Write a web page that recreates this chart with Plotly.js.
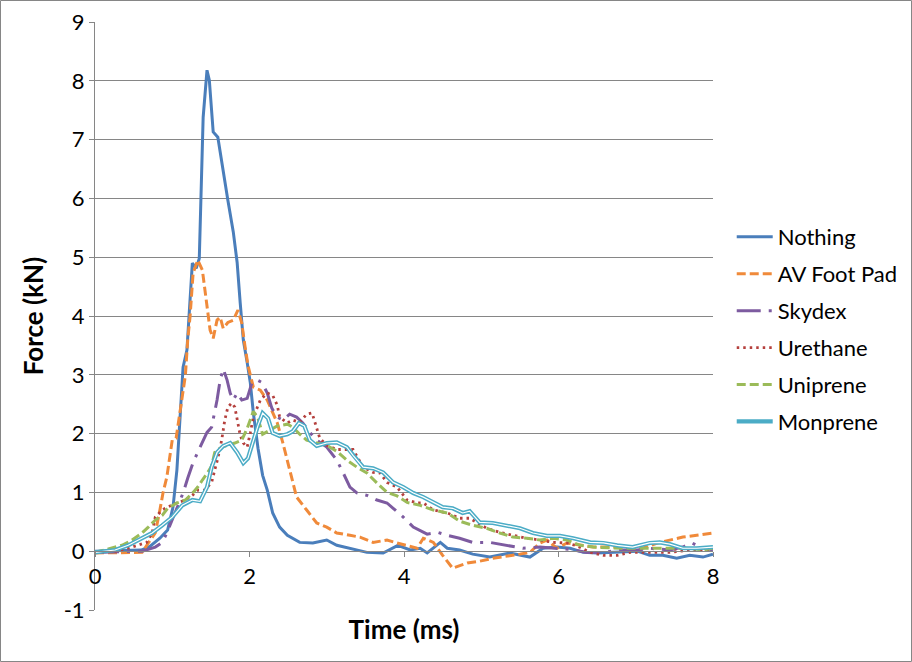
<!DOCTYPE html>
<html>
<head>
<meta charset="utf-8">
<script src="https://cdn.plot.ly/plotly-3.0.1.min.js"></script>
<style>html,body{margin:0;padding:0;background:#fff;}#chart{width:912px;height:662px;}</style>
</head>
<body>
<div id="chart"></div>
<script>
// ---- Data (time in ms, force in kN) ----
const seriesNames = ["Nothing", "AV Foot Pad", "Skydex", "Urethane", "Uniprene", "Monprene"];

const nothingT = [0,0.6,0.71,0.84,0.94,1.01,1.06,1.10,1.14,1.19,1.23,1.26,1.31,1.35,1.40,1.45,1.48,1.53,1.59,1.66,1.72,1.79,1.84,1.88,1.92,1.97,2.01,2.05,2.11,2.17,2.23,2.30,2.39,2.49,2.65,2.82,3.00,3.13,3.30,3.52,3.73,3.92,4.08,4.21,4.30,4.47,4.56,4.72,4.89,5.11,5.37,5.63,5.80,5.98,6.15,6.32,6.50,6.76,7.02,7.18,7.35,7.53,7.70,7.87,8.0];
const nothingF = [0,0.02,0.08,0.22,0.36,0.75,1.38,2.23,3.13,3.42,4.18,4.90,4.81,4.98,7.38,8.18,8.01,7.13,7.04,6.43,5.97,5.43,4.91,4.22,3.59,3.21,2.87,2.35,1.75,1.29,1.04,0.65,0.41,0.27,0.15,0.14,0.19,0.10,0.05,-0.02,-0.03,0.10,0.02,0.05,-0.03,0.15,0.05,0.02,-0.05,-0.10,-0.03,-0.10,0.05,0.07,0.05,-0.02,-0.03,-0.02,0.0,-0.07,-0.07,-0.12,-0.07,-0.10,-0.05];

const padT = [0,0.26,0.61,0.69,0.78,0.84,0.88,0.93,0.97,1.00,1.05,1.10,1.17,1.20,1.23,1.27,1.33,1.39,1.45,1.49,1.53,1.58,1.62,1.66,1.72,1.79,1.85,1.90,1.94,1.98,2.05,2.14,2.23,2.29,2.36,2.43,2.52,2.61,2.74,2.87,3.00,3.13,3.30,3.43,3.60,3.78,3.91,4.04,4.17,4.25,4.38,4.50,4.63,4.82,4.98,5.15,5.33,5.50,5.63,5.76,5.85,5.98,6.11,6.28,6.45,6.80,7.09,7.28,7.44,7.61,7.79,8.0];
const padF = [-0.03,-0.03,-0.02,0.14,0.31,0.70,0.99,1.26,1.67,1.89,1.92,2.40,2.99,3.59,3.98,4.73,4.95,4.78,4.15,3.76,3.62,3.93,3.98,3.79,3.89,3.93,4.10,3.88,3.50,3.16,2.79,2.74,2.57,2.40,2.18,1.85,1.38,0.92,0.70,0.48,0.41,0.31,0.27,0.24,0.15,0.19,0.14,0.09,0.05,0.22,0.15,-0.07,-0.29,-0.20,-0.17,-0.12,-0.09,-0.05,-0.02,0.14,0.19,0.05,0.14,0.10,0.07,0.07,0.05,0.14,0.19,0.24,0.27,0.31];

const skydexT = [0,0.43,0.61,0.78,0.87,0.93,1.00,1.07,1.14,1.20,1.27,1.36,1.45,1.51,1.58,1.62,1.66,1.71,1.75,1.79,1.84,1.90,1.97,2.03,2.10,2.16,2.23,2.29,2.36,2.43,2.52,2.61,2.69,2.78,2.87,3.00,3.13,3.21,3.30,3.39,3.52,3.65,3.78,3.86,3.99,4.12,4.30,4.44,4.56,4.72,4.89,5.11,5.33,5.54,5.76,5.98,6.15,6.37,6.58,6.80,7.02,7.18,7.44,7.61,7.73,7.83,8.0];
const skydexF = [-0.02,-0.01,0.0,0.07,0.15,0.31,0.53,0.78,0.99,1.24,1.51,1.77,2.02,2.11,2.57,2.91,3.10,2.91,2.69,2.57,2.69,2.57,2.60,2.86,2.91,2.87,2.69,2.43,2.28,2.23,2.33,2.28,2.18,2.02,1.89,1.77,1.55,1.34,1.09,0.99,0.95,0.87,0.82,0.73,0.58,0.41,0.29,0.32,0.27,0.22,0.15,0.15,0.10,0.05,0.07,0.05,0.03,-0.02,-0.02,0.02,0.02,0.05,0.02,0.07,0.14,0.07,0.02];

const urethaneT = [0,0.26,0.43,0.56,0.67,0.74,0.78,0.87,0.94,1.06,1.17,1.26,1.33,1.42,1.51,1.55,1.59,1.64,1.68,1.72,1.77,1.81,1.84,1.88,1.92,1.97,2.01,2.05,2.14,2.23,2.30,2.36,2.39,2.49,2.56,2.65,2.74,2.81,2.85,2.91,3.00,3.13,3.34,3.40,3.47,3.60,3.69,3.78,3.91,4.04,4.17,4.25,4.38,4.56,4.72,4.85,4.94,5.07,5.24,5.41,5.59,5.76,5.93,6.11,6.24,6.41,6.58,6.76,6.93,7.18,7.44,7.70,8.0];
const urethaneF = [-0.02,0.0,0.05,0.10,0.15,0.31,0.58,0.70,0.75,0.82,0.87,0.95,1.04,1.04,1.17,1.38,1.58,1.89,2.23,2.45,2.52,2.45,2.26,1.97,1.84,1.77,2.01,2.28,2.57,2.69,2.65,2.48,2.28,2.18,2.23,2.19,2.33,2.35,2.18,1.92,1.80,1.73,1.73,1.60,1.43,1.34,1.33,1.17,1.09,0.87,0.82,0.82,0.70,0.65,0.56,0.56,0.49,0.39,0.32,0.27,0.22,0.19,0.15,0.14,0.09,-0.02,-0.07,-0.07,-0.02,-0.02,-0.02,0.02,0.03];

const unipreneT = [0,0.22,0.35,0.48,0.61,0.69,0.78,0.87,0.94,1.06,1.17,1.27,1.33,1.39,1.42,1.46,1.51,1.55,1.64,1.72,1.81,1.90,1.97,2.05,2.11,2.17,2.27,2.36,2.49,2.56,2.65,2.74,2.87,3.00,3.13,3.26,3.39,3.52,3.65,3.78,3.91,4.04,4.21,4.38,4.56,4.72,4.89,5.07,5.24,5.41,5.59,5.76,5.93,6.11,6.28,6.45,6.83,7.35,7.70,7.87,8.0];
const unipreneF = [-0.02,0.05,0.10,0.19,0.31,0.41,0.53,0.61,0.73,0.82,0.87,1.00,1.09,1.21,1.26,1.34,1.45,1.68,1.77,1.80,1.84,1.89,2.09,2.38,2.26,1.99,2.06,2.13,2.16,2.11,1.99,1.89,1.84,1.80,1.70,1.55,1.43,1.33,1.16,1.00,0.94,0.83,0.78,0.70,0.65,0.51,0.44,0.39,0.31,0.24,0.22,0.19,0.22,0.19,0.10,0.07,0.05,0.05,0.05,0.02,0.05];

const monpreneT = [0,0.26,0.43,0.61,0.74,0.87,1.00,1.13,1.26,1.36,1.45,1.51,1.58,1.66,1.75,1.84,1.92,1.98,2.05,2.11,2.17,2.24,2.30,2.39,2.49,2.56,2.64,2.71,2.78,2.87,3.00,3.13,3.26,3.34,3.47,3.60,3.73,3.86,3.99,4.12,4.25,4.38,4.50,4.63,4.76,4.85,4.98,5.15,5.33,5.50,5.67,5.85,6.02,6.19,6.41,6.58,6.76,6.96,7.18,7.31,7.44,7.61,7.79,8.0];
const monpreneF = [-0.02,0.02,0.10,0.22,0.31,0.44,0.58,0.78,0.87,0.85,1.09,1.43,1.68,1.79,1.84,1.68,1.50,1.58,1.89,2.14,2.35,2.26,2.01,1.96,1.99,2.04,2.18,2.13,1.89,1.79,1.84,1.85,1.77,1.63,1.43,1.41,1.34,1.17,1.09,0.99,0.92,0.83,0.75,0.73,0.65,0.68,0.49,0.48,0.43,0.39,0.31,0.26,0.26,0.22,0.15,0.14,0.10,0.07,0.14,0.15,0.12,0.05,0.05,0.07];

const xTicks = [0, 2, 4, 6, 8];
const yTicks = [-1, 0, 1, 2, 3, 4, 5, 6, 7, 8, 9];

// ---- Styles ----
const FONT = "Lato, 'Open Sans', sans-serif";
const GRID = "#868686";

function tr(name, x, y, color, width, dash, extra) {
  return Object.assign({
    type: "scatter", mode: "lines", name: name, x: x, y: y,
    line: {color: color, width: width, dash: dash, shape: "linear"},
    legendgroup: name, hoverinfo: "skip"
  }, extra || {});
}

const data = [
  tr(seriesNames[0], nothingT, nothingF, "#4A7EBB", 3, "solid"),
  tr(seriesNames[1], padT, padF, "#F08A3A", 3, "9px,4px"),
  tr(seriesNames[2], skydexT, skydexF, "#7D5BA0", 3, "24px,8px,3px,8px"),
  tr(seriesNames[3], urethaneT, urethaneF, "#B5403D", 2.8, "2.5px,4px"),
  tr(seriesNames[4], unipreneT, unipreneF, "#9BBB59", 3, "9px,4px"),
  tr(seriesNames[5], monpreneT, monpreneF, "#4BACC6", 4.2, "solid"),
  tr(seriesNames[5], monpreneT, monpreneF, "#FFFFFF", 1.2, "solid", {showlegend: false})
];

const layout = {
  width: 912, height: 662,
  margin: {l: 95, r: 199, t: 22, b: 52, pad: 0, autoexpand: false},
  paper_bgcolor: "#fff", plot_bgcolor: "#fff",
  font: {family: FONT, size: 22, color: "#000"},
  showlegend: true,
  legend: {
    x: 1.0303, xanchor: "left", y: 0.670, yanchor: "top",
    font: {family: FONT, size: 22, color: "#000"},
    traceorder: "grouped", tracegroupgap: 5.3,
    bgcolor: "rgba(0,0,0,0)", borderwidth: 0, itemwidth: 36
  },
  xaxis: {
    range: [0, 8], tickvals: xTicks, ticktext: xTicks.map(String),
    anchor: "free", position: 0.1,
    showline: true, linecolor: GRID, linewidth: 1,
    ticks: "outside", ticklen: 5, tickcolor: GRID,
    showgrid: false, zeroline: false,
    tickfont: {family: FONT, size: 22, color: "#000"},
    title: {text: "<b>Time (ms)</b>", font: {family: FONT, size: 26, color: "#000"}, standoff: 33},
    automargin: false
  },
  yaxis: {
    range: [-1, 9], tickvals: yTicks, ticktext: yTicks.map(String),
    showline: true, linecolor: GRID, linewidth: 1,
    ticks: "outside", ticklen: 5, tickcolor: GRID,
    showgrid: true, gridcolor: GRID, gridwidth: 1, zeroline: false,
    tickfont: {family: FONT, size: 22, color: "#000"},
    title: {text: "<b>Force (kN)</b>", font: {family: FONT, size: 26, color: "#000"}, standoff: 12},
    automargin: false
  },
  shapes: [{
    type: "rect", xref: "paper", yref: "paper",
    x0: -94.5 / 618, x1: 816.5 / 618, y0: -51.5 / 588, y1: 609.5 / 588,
    line: {color: GRID, width: 1}, fillcolor: "rgba(0,0,0,0)", layer: "below"
  }]
};

Plotly.newPlot("chart", data, layout, {displayModeBar: false, staticPlot: true});
</script>
</body>
</html>
